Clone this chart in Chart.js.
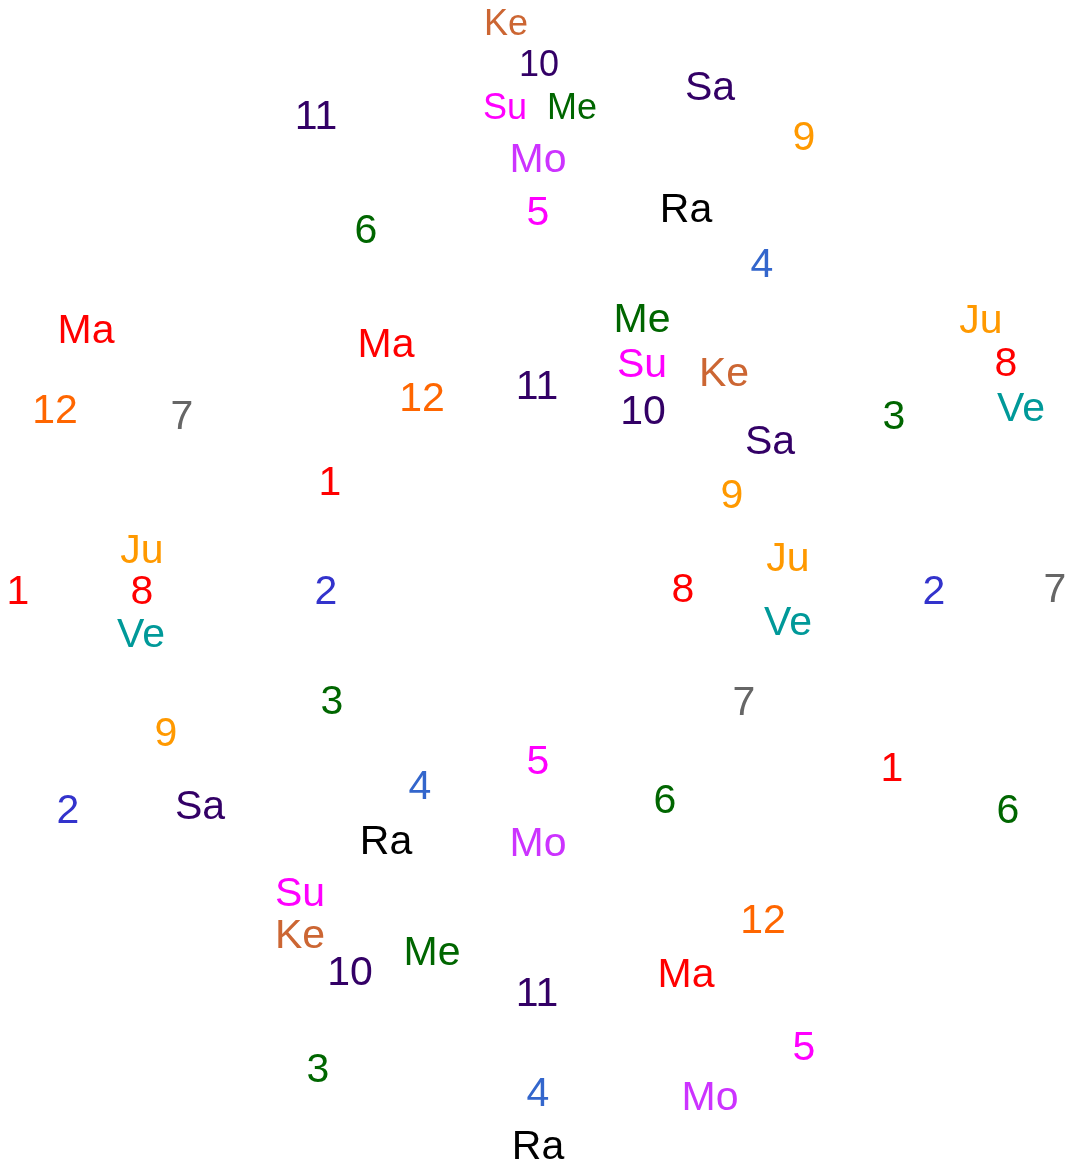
<!DOCTYPE html>
<html lang="en">
<head>
    <meta charset="UTF-8">
    <title>Chart rings</title>
    <script src="https://cdn.jsdelivr.net/npm/chart.js"></script>
    <style>
        body { margin: 0; background: #fff; }
        #wrap { width: 1068px; height: 1164px; position: relative; }
    </style>
</head>
<body>
<div id="wrap"><canvas id="myChart"></canvas></div>
<script>
    // house numbers and planets, three rings (outer / middle / inner)
    const houseNumbers = ['1', '2', '3', '4', '5', '6', '7', '8', '9', '10', '11', '12'];
    const planets = ['Su', 'Mo', 'Ma', 'Me', 'Ju', 'Ve', 'Sa', 'Ra', 'Ke'];

    const outerHouseX = [18, 68, 318, 538, 804, 1008, 1055, 1006, 804, 539, 316, 55];
    const outerHouseY = [590, 809, 1068, 1092, 1046, 809, 588, 362, 136, 63, 115, 409];
    const middleHouseX = [892, 934, 894, 762, 538, 366, 182, 142, 166, 350, 537, 763];
    const middleHouseY = [767, 590, 415, 263, 211, 229, 415, 590, 732, 971, 992, 919];
    const innerHouseX = [330, 326, 332, 420, 538, 665, 744, 683, 732, 643, 537, 422];
    const innerHouseY = [481, 590, 700, 785, 760, 799, 701, 588, 494, 410, 385, 397];

    const outerPlanetX = [505, 710, 86, 572, 981, 1021, 710, 538, 506];
    const outerPlanetY = [106, 1096, 329, 106, 319, 407, 86, 1145, 22];
    const middlePlanetX = [300, 538, 686, 432, 142, 141, 200, 686, 300];
    const middlePlanetY = [892, 158, 973, 951, 549, 633, 805, 208, 934];
    const innerPlanetX = [642, 538, 386, 642, 788, 788, 770, 386, 724];
    const innerPlanetY = [363, 842, 343, 318, 557, 621, 440, 840, 372];

    // colours by label
    const labelColor = {
        '1': '#ff0000', '2': '#3333cc', '3': '#006600', '4': '#3366cc',
        '5': '#ff00ff', '6': '#006600', '7': '#666666', '8': '#ff0000',
        '9': '#ff9900', '10': '#330066', '11': '#330066', '12': '#ff6600',
        'Su': '#ff00ff', 'Mo': '#cc33ff', 'Ma': '#ff0000', 'Me': '#006600',
        'Ju': '#ff9900', 'Ve': '#009999', 'Sa': '#330066', 'Ra': '#000000', 'Ke': '#cc6633'
    };
    // crowded outer house drawn a little smaller
    const smallOuter = ['10', 'Su', 'Me', 'Ke'];

    function points(names, xs, ys) {
        return names.map(function (n, i) { return { x: xs[i], y: ys[i], t: n }; });
    }

    const datasets = [
        { label: 'outerHouses', ring: 'outer', data: points(houseNumbers, outerHouseX, outerHouseY) },
        { label: 'outerPlanets', ring: 'outer', data: points(planets, outerPlanetX, outerPlanetY) },
        { label: 'middleHouses', ring: 'middle', data: points(houseNumbers, middleHouseX, middleHouseY) },
        { label: 'middlePlanets', ring: 'middle', data: points(planets, middlePlanetX, middlePlanetY) },
        { label: 'innerHouses', ring: 'inner', data: points(houseNumbers, innerHouseX, innerHouseY) },
        { label: 'innerPlanets', ring: 'inner', data: points(planets, innerPlanetX, innerPlanetY) }
    ];
    datasets.forEach(function (d) { d.pointRadius = 0; d.pointHoverRadius = 0; });

    const textLabels = {
        id: 'textLabels',
        afterDatasetsDraw(chart) {
            const ctx = chart.ctx;
            ctx.save();
            ctx.textAlign = 'center';
            ctx.textBaseline = 'middle';
            chart.data.datasets.forEach(function (ds, di) {
                const meta = chart.getDatasetMeta(di);
                meta.data.forEach(function (pt, i) {
                    const t = ds.data[i].t;
                    const small = ds.ring === 'outer' && smallOuter.indexOf(t) >= 0;
                    ctx.font = (small ? '36px' : '41px') + ' "Liberation Sans", Arial, sans-serif';
                    ctx.fillStyle = labelColor[t];
                    // 'middle' sits a touch above the cap centre
                    ctx.fillText(t, pt.x, pt.y + 3);
                });
            });
            ctx.restore();
        }
    };

    const myChart = new Chart(document.getElementById('myChart'), {
        type: 'scatter',
        data: { datasets: datasets },
        options: {
            responsive: true,
            maintainAspectRatio: false,
            animation: false,
            layout: { padding: 0 },
            plugins: { legend: { display: false }, tooltip: { enabled: false } },
            scales: {
                x: { type: 'linear', min: 0, max: 1068, display: false },
                y: { type: 'linear', min: 0, max: 1164, reverse: true, display: false }
            }
        },
        plugins: [textLabels]
    });
</script>
</body>
</html>
